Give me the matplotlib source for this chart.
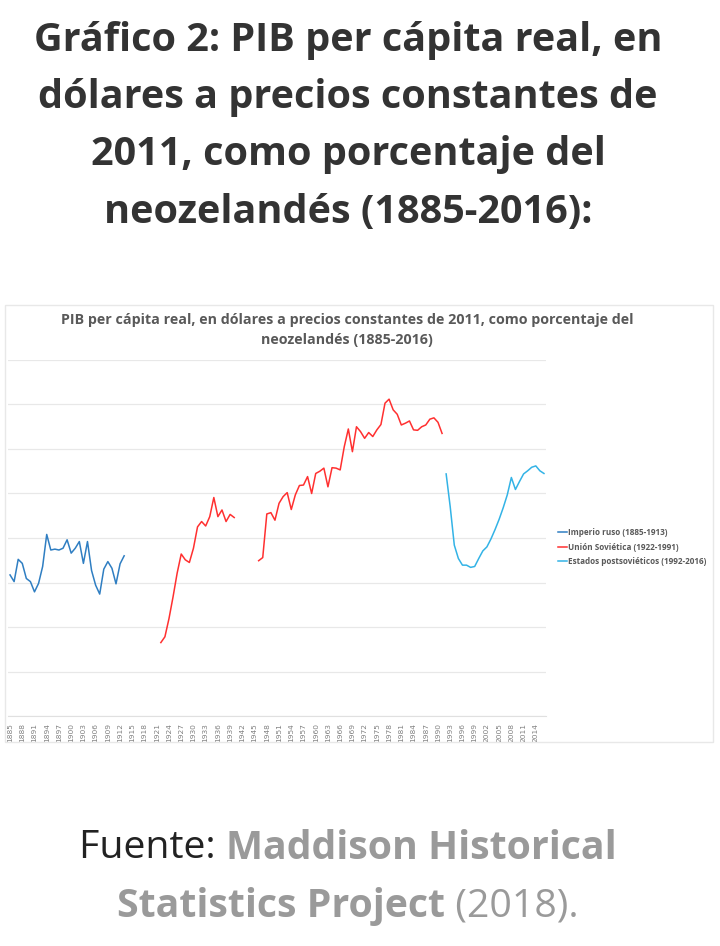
import numpy as np
import matplotlib.pyplot as plt
from matplotlib.patches import Rectangle

# Datos (% del PIB per cápita de Nueva Zelanda)
anios_imperio = list(range(1885, 1914))
imperio = [31.7, 30.2, 35.2, 34.3, 30.9, 30.2, 27.9, 29.8, 33.6, 40.8,
           37.3, 37.5, 37.3, 37.7, 39.6, 36.6, 37.7, 39.2, 34.3, 39.2,
           32.7, 29.4, 27.4, 33.0, 34.7, 33.2, 29.7, 34.2, 36.0]

anios_urss_1 = list(range(1922, 1941))
urss_1 = [16.5, 17.8, 21.9, 26.8, 32.1, 36.4, 35.1, 34.5, 37.7, 42.5,
          43.7, 42.7, 44.8, 49.1, 44.8, 46.3, 43.7, 45.3, 44.6]

anios_urss_2 = list(range(1946, 1992))
urss_2 = [34.9, 35.6, 45.4, 45.7, 44.0, 47.8, 49.3, 50.2, 46.4, 49.7,
          51.8, 51.9, 53.8, 50.0, 54.5, 55.0, 55.7, 51.5, 55.8, 55.7,
          55.3, 60.5, 64.5, 59.4, 65.0, 63.9, 62.4, 63.7, 62.8, 64.3,
          65.5, 70.3, 71.2, 68.8, 67.8, 65.4, 65.8, 66.3, 64.3, 64.2,
          65.0, 65.4, 66.7, 67.0, 66.0, 63.5]

anios_post = list(range(1992, 2017))
post = [54.4, 47.0, 38.4, 35.4, 33.9, 33.9, 33.4, 33.6, 35.4, 37.1,
        38.0, 39.8, 41.9, 44.2, 46.8, 49.7, 53.6, 50.9, 52.7, 54.4,
        55.1, 55.9, 56.2, 55.1, 54.5]

anios_ticks = list(range(1885, 2017, 3))

W, H = 720, 946
fig = plt.figure(figsize=(W / 100, H / 100), dpi=100)
fig.patch.set_facecolor('white')

def fx(px):
    return px / W

def fy(py):
    return 1 - py / H

# Título de la página
titulo = ["Gráfico 2: PIB per cápita real, en",
          "dólares a precios constantes de",
          "2011, como porcentaje del",
          "neozelandés (1885-2016):"]
for i, linea in enumerate(titulo):
    fig.text(fx(348), fy(40 + i * 57.5), linea, ha='center', va='center',
             fontsize=28.5, fontweight='bold', color='#333333', family='Open Sans')

# Marco de la imagen del gráfico
fig.patches.append(Rectangle((fx(5), fy(742)), fx(713) - fx(5), fy(305) - fy(742),
                             transform=fig.transFigure, fill=False,
                             edgecolor='#e8e8e8', linewidth=1))

fig.text(fx(347), fy(320), "PIB per cápita real, en dólares a precios constantes de 2011, como porcentaje del",
         ha='center', va='center', fontsize=10.3, fontweight='bold', color='#595959', family='Open Sans')
fig.text(fx(347), fy(340), "neozelandés (1885-2016)",
         ha='center', va='center', fontsize=10.3, fontweight='bold', color='#595959', family='Open Sans')

ax = fig.add_axes([fx(8), fy(716), fx(546) - fx(8), fy(360) - fy(716)])
ax.plot(anios_imperio, imperio, color='#2f7ec2', lw=1.1, label='Imperio ruso (1885-1913)')
ax.plot(anios_urss_1, urss_1, color='#ff3030', lw=1.1, label='Unión Soviética (1922-1991)')
ax.plot(anios_urss_2, urss_2, color='#ff3030', lw=1.1)
ax.plot(anios_post, post, color='#33b3e6', lw=1.1, label='Estados postsoviéticos (1992-2016)')

ax.set_xlim(1884.5, 2016.5)
ax.set_ylim(0, 80)
ax.set_yticks(np.arange(0, 81, 10))
ax.set_yticklabels([])
ax.tick_params(axis='y', length=0)
ax.set_xticks(anios_ticks)
ax.set_xticklabels([str(a) for a in anios_ticks], rotation=90, fontsize=5.4, color='#808080')
ax.tick_params(axis='x', length=0, pad=5)
ax.grid(axis='y', color='#e8e8e8', lw=0.9)
ax.set_axisbelow(True)
for s in ['top', 'right', 'left']:
    ax.spines[s].set_visible(False)
ax.spines['bottom'].set_color('#e0e0e0')

fig.legend(loc='center left', bbox_to_anchor=(fx(551), fy(547)), frameon=False,
           handlelength=1.1, handletextpad=0.1, labelspacing=0.65,
           labelcolor='#595959', prop={'family': 'Open Sans', 'weight': 'bold', 'size': 5.9})

# Fuente (texto con estilos mezclados)
renderer = fig.canvas.get_renderer()
fuente_lineas = [
    [("Fuente: ", 'normal', '#222222'), ("Maddison Historical", 'bold', '#9a9a9a')],
    [("Statistics Project", 'bold', '#9a9a9a'), (" (2018).", 'normal', '#9a9a9a')],
]
for i, partes in enumerate(fuente_lineas):
    y = fy(848 + i * 58)
    textos = []
    for txt, peso, col in partes:
        t = fig.text(0, y, txt, fontsize=28.3, fontweight=peso, color=col,
                     family='Open Sans', va='center', ha='left')
        textos.append(t)
    anchos = [t.get_window_extent(renderer).width for t in textos]
    x0 = 348 - sum(anchos) / 2
    for t, w in zip(textos, anchos):
        t.set_x(fx(x0))
        x0 += w

fig.savefig('out.png', dpi=100, facecolor='white')
